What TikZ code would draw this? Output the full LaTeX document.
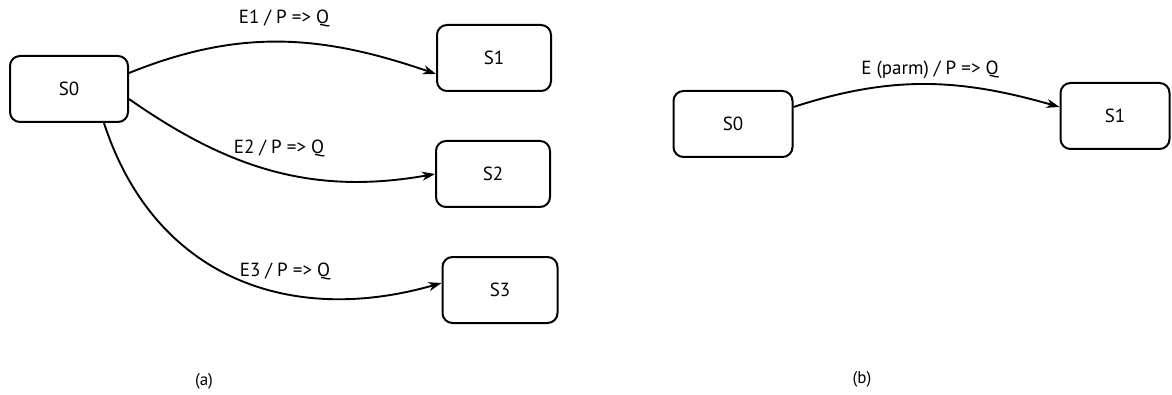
\documentclass[tikz,border=0pt]{standalone}
\usepackage{fontspec}
\setmainfont{PT Sans}
\usetikzlibrary{arrows.meta}
\tikzset{
    base/.style={font=\fontsize{19}{22}\selectfont, align=center},
    statebox/.style={base, rectangle, rounded corners=10pt, draw, line width=2pt,
                     minimum width=116pt, minimum height=66pt},
    trans/.style={-{Stealth[length=13pt, width=9pt, inset=4pt]}, line width=1.9pt},
    translabel/.style={base, inner sep=1pt},
    caption/.style={base, font=\fontsize{17}{20}\selectfont}
}

\begin{document}
\begin{tikzpicture}[x=1pt, y=1pt]
  \useasboundingbox (0,0) rectangle (1172,394);

  % (a) one event per transition
  \node[statebox, minimum width=118pt] (S0a) at (69,305) {S0};
  \node[statebox, minimum width=114pt] (S1a) at (494,336) {S1};
  \node[statebox, minimum width=114pt] (S2a) at (493,220) {S2};
  \node[statebox, minimum width=115pt] (S3a) at (500,104) {S3};

  \draw[trans] ([yshift=16pt]S0a.east) to[out=22, in=161] ([yshift=-16pt]S1a.west);
  \draw[trans] ([yshift=-10pt]S0a.east) to[out=-35, in=190] (S2a.west);
  \draw[trans] ([xshift=35pt]S0a.south) to[out=-72, in=196, looseness=1.1] ([yshift=7pt]S3a.west);

  \node[translabel] (E1) at (284,376) {E1 / P => Q};
  \node[translabel] (E2) at (279,246) {E2 / P => Q};
  \node[translabel] (E3) at (285,123) {E3 / P => Q};

  \node[caption] (capa) at (204,13) {(a)};

  % (b) one parametrised event
  \node[statebox, minimum width=119pt] (S0b) at (733,270) {S0};
  \node[statebox, minimum width=109pt] (S1b) at (1115,278) {S1};

  \draw[trans] ([yshift=17pt]S0b.east) to[out=18, in=164] ([yshift=9pt]S1b.west);

  \node[translabel] (Ep) at (930,324) {E (parm) / P => Q};

  \node[caption] (capb) at (862,15) {(b)};
\end{tikzpicture}
\end{document}
